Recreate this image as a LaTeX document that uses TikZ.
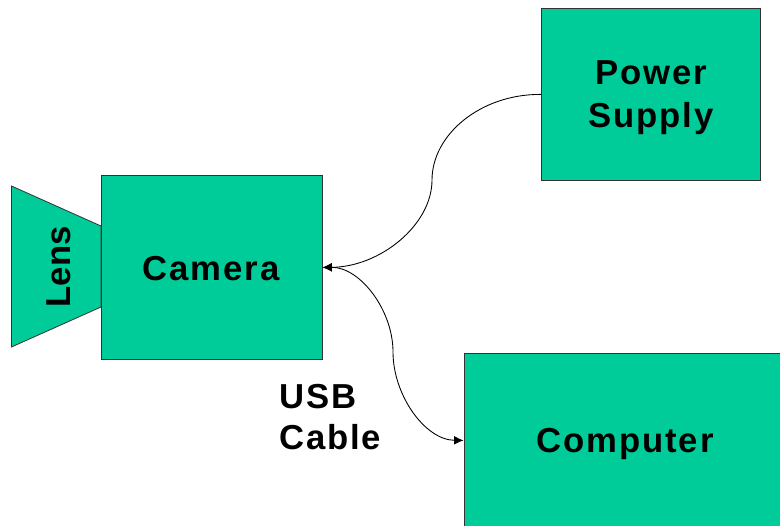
\documentclass[tikz,border=0pt]{standalone}
\usepackage{fontspec}
\setmainfont{Liberation Sans}[LetterSpace=5.5]
\newfontfamily\lensfont{Liberation Sans}[LetterSpace=0.5]
\usetikzlibrary{arrows.meta}
\definecolor{boxgreen}{RGB}{0,204,153}
\tikzset{
  box/.style={draw=black!80,line width=0.6pt,fill=boxgreen,anchor=north west,inner sep=0pt},
  lab/.style={font=\fontsize{26}{32}\selectfont\bfseries,align=center,inner sep=0pt},
  wire/.style={draw=black,line width=0.65pt},
  tip/.tip={Latex[length=7pt,width=6.5pt]}
}
\begin{document}
\begin{tikzpicture}[x=0.75pt,y=-0.75pt]
\useasboundingbox (0,0) rectangle (780,525);
\path[draw=black!80,line width=0.6pt,fill=boxgreen] (11.5,186) -- (101,226) -- (101,307) -- (11.5,347) -- cycle;
\node[box,minimum width=165.6pt,minimum height=138pt] (camera) at (101,175) {};
\node[box,minimum width=164.4pt,minimum height=129pt] (power) at (541,8) {};
\node[box,minimum width=240pt,minimum height=130.5pt] (computer) at (463.5,353) {};
\node[lab,font=\fontsize{26}{32}\selectfont\bfseries\lensfont] (lens) at (59,267) {\rotatebox{90}{Lens}};
\node[lab] (cameralabel) at (211,269) {Camera};
\node[lab] (powerlabel) at (651,98) {Power\\Supply};
\node[lab] (computerlabel) at (625,444) {Computer};
\node[lab,align=left,font=\fontsize{26}{30.7}\selectfont\bfseries,anchor=west] (usblabel) at (279,417.5) {USB\\Cable};
\draw[wire,-tip] (power.west) .. controls (480,94) and (432,135) .. (432,180) .. controls (432,225) and (380,267) .. (camera.east);
\draw[wire,tip-tip] (camera.east) .. controls (360,267) and (393,310) .. (393,352) .. controls (393,395) and (425,440) .. (computer.west);
\end{tikzpicture}
\end{document}
